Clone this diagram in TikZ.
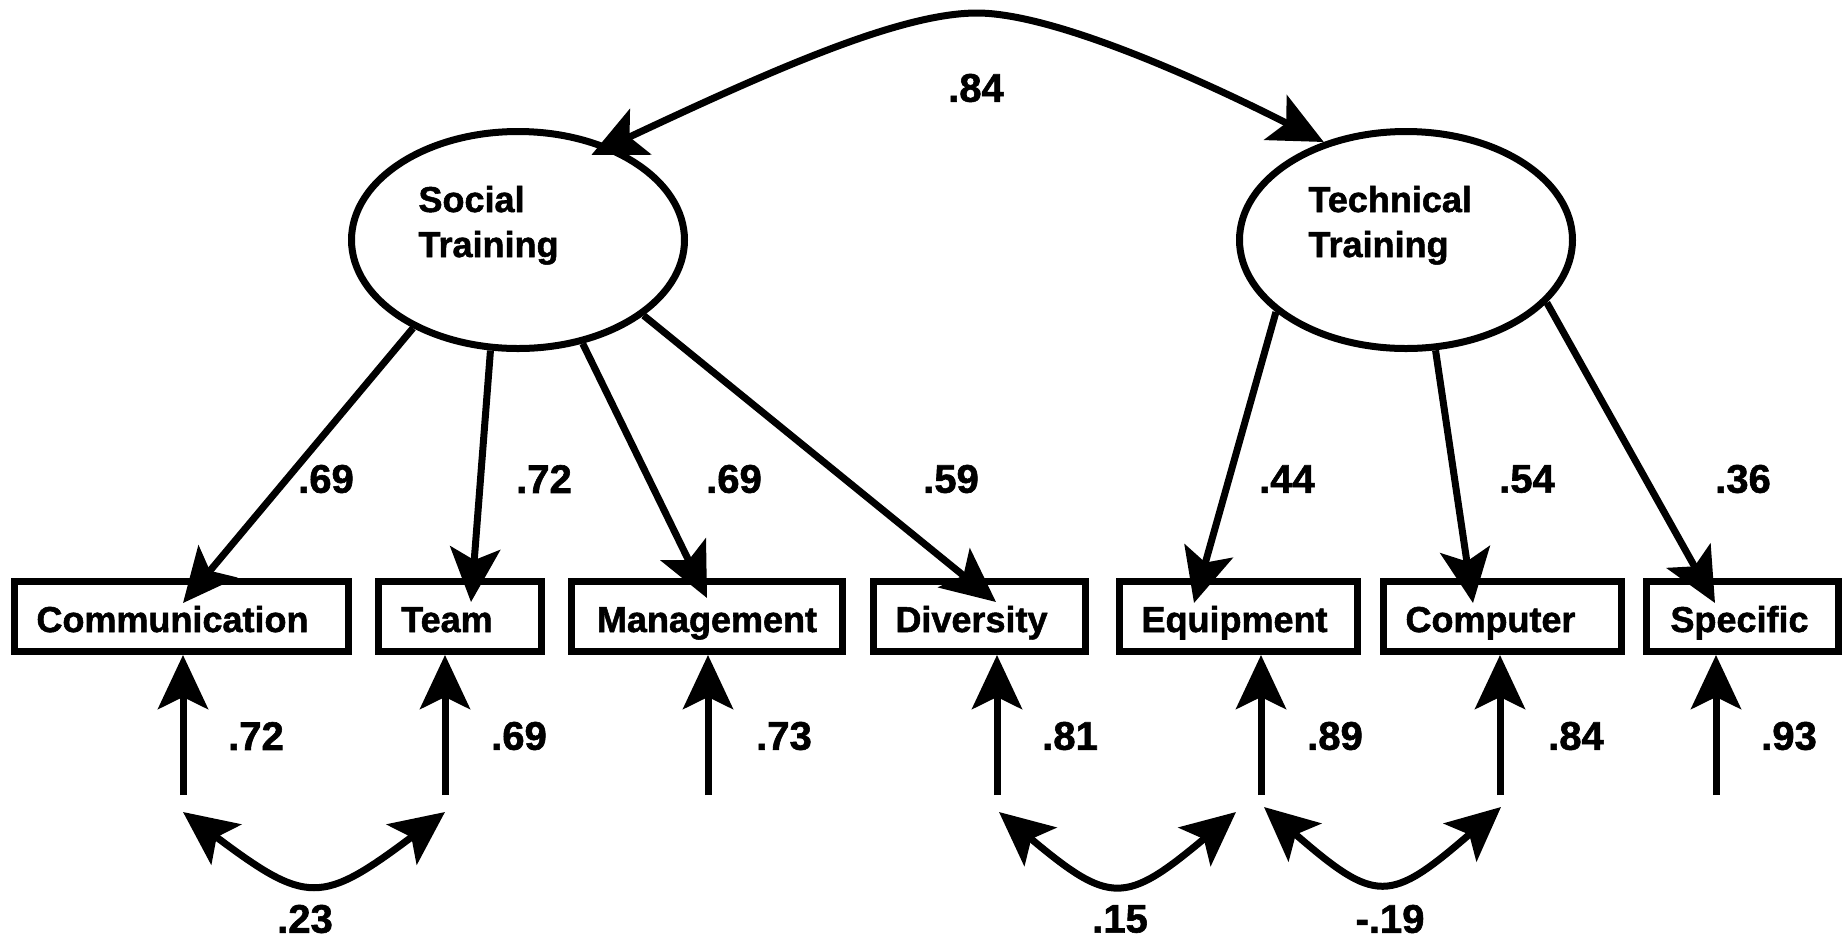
\documentclass[tikz,border=0pt]{standalone}
\usepackage{fontspec}
\setmainfont{Liberation Sans}[BoldFeatures={FakeBold=1.5}]
\usetikzlibrary{arrows.meta,shapes.geometric,calc}
\begin{document}
\begin{tikzpicture}[x=0.5pt,y=-0.5pt,
  line width=3.5pt,
  >={Stealth[length=27pt,width=25pt,inset=6pt]},
  box/.style={draw, rectangle, minimum height=35pt, inner sep=0pt,
    text height=15.5pt, text depth=0pt,
    font=\bfseries\fontsize{18}{20}\selectfont},
  lat/.style={draw, ellipse, minimum width=166.5pt, minimum height=108.5pt, inner sep=0pt},
  lattext/.style={align=left, inner sep=0pt, font=\bfseries\fontsize{18}{22.5}\selectfont},
  num/.style={inner sep=0pt, font=\bfseries\fontsize{20}{22}\selectfont},
  conn/.style={->},
  cov/.style={<->}
]
\useasboundingbox (0,0) rectangle (1848,939);

% latent factors
\node[lat] (soc) at (518,240) {};
\node[lat] (tec) at (1406,240) {};
\node[lattext, anchor=base west] (soct) at (415,257) {Social\\Training};
\node[lattext, anchor=base west] (tect) at (1305,257) {Technical\\Training};

% indicators
\node[box, minimum width=167pt]   (comm) at (181.5,616.5) {Communication\kern9pt};
\node[box, minimum width=81.5pt]  (team) at (460,616.5)   {Team\kern13pt};
\node[box, minimum width=135.5pt] (mgmt) at (707,616.5)   {Management};
\node[box, minimum width=106pt]   (div)  at (979.5,616.5) {Diversity\kern8pt};
\node[box, minimum width=119pt]   (equ)  at (1238.5,616.5){Equipment\kern4pt};
\node[box, minimum width=119pt]   (comp) at (1502.5,616.5){Computer\kern12pt};
\node[box, minimum width=96pt]    (spec) at (1742.5,616.5){Specific\kern3pt};

% loading arrow tips (inside box tops)
\coordinate (t1) at (183,603);
\coordinate (t2) at (471,602);
\coordinate (t3) at (707,598);
\coordinate (t4) at (996,602);
\coordinate (t5) at (1194,603);
\coordinate (t6) at (1473,603);
\coordinate (t7) at (1715,603);

\draw[conn] (soc.-140.6) -- (t1);
\draw[conn] (soc.-104.8) -- (t2);
\draw[conn] (soc.-58.5) -- (t3);
\draw[conn] (soc.-31.5) -- (t4);
\draw[conn] (tec.-151.6) -- (t5);
\draw[conn] (tec.-75.2) -- (t6);
\draw[conn] (tec.-24.2) -- (t7);

% factor correlation
\coordinate (peak) at (977,13);
\draw[cov] ([shift={(-11,12)}]soc.49) .. controls +(181,-85) and +(-77,0) .. (peak)
  .. controls +(73,0) and +(-134,-68) .. (tec.130.6);

% error terms
\coordinate (e1) at (183,795);
\coordinate (e2) at (445,795);
\coordinate (e3) at (708,795);
\coordinate (e4) at (997,795);
\coordinate (e5) at (1261,795);
\coordinate (e6) at (1500,795);
\coordinate (e7) at (1716,795);
\draw[conn] (e1) -- (e1 |- comm.south);
\draw[conn] (e2) -- (e2 |- team.south);
\draw[conn] (e3) -- (e3 |- mgmt.south);
\draw[conn] (e4) -- (e4 |- div.south);
\draw[conn] (e5) -- (e5 |- equ.south);
\draw[conn] (e6) -- (e6 |- comp.south);
\draw[conn] (e7) -- (e7 |- spec.south);

% error covariances
\coordinate (c1) at (183,812);
\coordinate (c2) at (445,812);
\coordinate (c3) at (999,812);
\coordinate (c4) at (1236,812);
\coordinate (c5) at (1264,807);
\coordinate (c6) at (1501,807);
\draw[cov] (c1) .. controls +(124,93) and +(-124,93) .. (c2);
\draw[cov] (c3) .. controls +(111,93) and +(-111,93) .. (c4);
\draw[cov] (c5) .. controls +(112,97) and +(-112,97) .. (c6);

% numbers
\node[num] (r84) at (976,88) {.84};
\node[num] (l1) at (326,479) {.69};
\node[num] (l2) at (544,479) {.72};
\node[num] (l3) at (734,479) {.69};
\node[num] (l4) at (951,479) {.59};
\node[num] (l5) at (1287,479) {.44};
\node[num] (l6) at (1527,479) {.54};
\node[num] (l7) at (1743,479) {.36};
\node[num] (u1) at (256,736) {.72};
\node[num] (u2) at (519,736) {.69};
\node[num] (u3) at (784,736) {.73};
\node[num] (u4) at (1070,736) {.81};
\node[num] (u5) at (1335,736) {.89};
\node[num] (u6) at (1576,736) {.84};
\node[num] (u7) at (1789,736) {.93};
\node[num] (k1) at (305,919) {.23};
\node[num] (k2) at (1120,919) {.15};
\node[num] (k3) at (1390,919) {-.19};
\end{tikzpicture}
\end{document}
